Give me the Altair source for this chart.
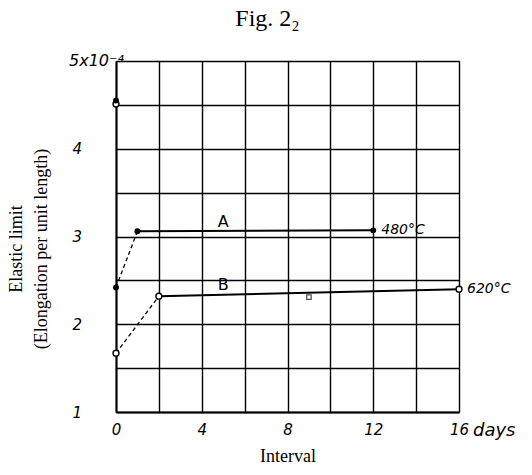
import altair as alt
import pandas as pd

# --- data ---
a_solid_days = [1, 12]
a_solid_vals = [3.06, 3.07]
a_dash_days = [0, 1]
a_dash_vals = [2.42, 3.06]

b_solid_days = [2, 16]
b_solid_vals = [2.32, 2.40]
b_dash_days = [0, 2]
b_dash_vals = [1.67, 2.32]
b_mid_day = [9]
b_mid_val = [2.31]

init_filled_day = [0]
init_filled_val = [4.55]
init_open_day = [0]
init_open_val = [4.51]

x_ticks = [0, 4, 8, 12, 16]
x_grid = [0, 2, 4, 6, 8, 10, 12, 14, 16]
y_grid = [1, 1.5, 2, 2.5, 3, 3.5, 4, 4.5, 5]
y_ticks = [1, 2, 3, 4]

label_series = ["A", "B"]
label_days = [5, 5]
label_vals = [3.17, 2.45]
temp_labels = ["480°C", "620°C"]
temp_days = [12, 16]
temp_vals = [3.07, 2.40]
top_label = ["5x10⁻⁴"]
top_val = [5]

W, H = 343, 351

solid = pd.DataFrame({
    "s": ["A"] * 2 + ["B"] * 2,
    "day": a_solid_days + b_solid_days,
    "val": a_solid_vals + b_solid_vals,
})
dash = pd.DataFrame({
    "s": ["A"] * 2 + ["B"] * 2,
    "day": a_dash_days + b_dash_days,
    "val": a_dash_vals + b_dash_vals,
})
filled_pts = pd.DataFrame({
    "day": [a_dash_days[0], a_solid_days[0], a_solid_days[1]] + init_filled_day,
    "val": [a_dash_vals[0], a_solid_vals[0], a_solid_vals[1]] + init_filled_val,
})
open_pts = pd.DataFrame({
    "day": [b_dash_days[0], b_solid_days[0], b_solid_days[1]] + init_open_day,
    "val": [b_dash_vals[0], b_solid_vals[0], b_solid_vals[1]] + init_open_val,
})
sq = pd.DataFrame({"day": b_mid_day, "val": b_mid_val})
lab = pd.DataFrame({"t": label_series, "day": label_days, "val": label_vals})
tlab = pd.DataFrame({"t": temp_labels, "day": temp_days, "val": temp_vals})
days_df = pd.DataFrame({"t": ["days"], "day": [16]})
top_df = pd.DataFrame({"t": top_label, "val": top_val})

xs = alt.Scale(domain=[0, 16], nice=False, zero=False)
ys = alt.Scale(domain=[1, 5], nice=False, zero=False)

X = alt.X("day:Q", scale=xs, axis=alt.Axis(
    values=x_grid, grid=True, ticks=False,
    labelExpr="indexof([0,4,8,12,16], datum.value) >= 0 ? toString(datum.value) : ''",
    labelPadding=10, labelFlush=False,
    title="Interval", titlePadding=10))
Y = alt.Y("val:Q", scale=ys, axis=alt.Axis(
    values=y_grid, grid=True, ticks=False,
    labelExpr="indexof([1,2,3,4], datum.value) >= 0 ? toString(datum.value) : ''",
    labelAlign="left", labelPadding=44, labelFlush=False,
    title=["Elastic limit", "(Elongation per unit length)"],
    titleX=-91, titleY=H / 2 + 12, titleAngle=270,
    titleAlign="center", titleLineHeight=25))

base_solid = alt.Chart(solid).mark_line(color="black", strokeWidth=2).encode(
    x=X, y=Y, detail="s:N")
base_dash = alt.Chart(dash).mark_line(color="black", strokeWidth=1.3,
                                      strokeDash=[4, 3]).encode(
    x=alt.X("day:Q", scale=xs), y=alt.Y("val:Q", scale=ys), detail="s:N")
p_open = alt.Chart(open_pts).mark_point(
    shape="circle", filled=False, color="black", size=35, strokeWidth=1.4,
    fill="white", fillOpacity=1).encode(
    x=alt.X("day:Q", scale=xs), y=alt.Y("val:Q", scale=ys))
p_filled = alt.Chart(filled_pts).mark_point(
    shape="circle", filled=True, color="black", size=35, opacity=1).encode(
    x=alt.X("day:Q", scale=xs), y=alt.Y("val:Q", scale=ys))
p_sq = alt.Chart(sq).mark_point(
    shape="square", filled=False, color="black", size=20, strokeWidth=1.2).encode(
    x=alt.X("day:Q", scale=xs), y=alt.Y("val:Q", scale=ys))
t_ab = alt.Chart(lab).mark_text(font="DejaVu Sans", fontSize=16,
                                color="black", baseline="middle").encode(
    x=alt.X("day:Q", scale=xs), y=alt.Y("val:Q", scale=ys), text="t:N")
t_temp = alt.Chart(tlab).mark_text(font="DejaVu Sans", fontStyle="italic",
                                   fontSize=14, color="black", align="left",
                                   dx=8, baseline="middle").encode(
    x=alt.X("day:Q", scale=xs), y=alt.Y("val:Q", scale=ys), text="t:N")
t_days = alt.Chart(days_df).mark_text(font="DejaVu Sans", fontStyle="italic",
                                      fontSize=18, color="black", align="left",
                                      dx=14, baseline="middle").encode(
    x=alt.X("day:Q", scale=xs), y=alt.value(H + 19), text="t:N")
t_top = alt.Chart(top_df).mark_text(font="DejaVu Sans", fontStyle="italic",
                                    fontSize=16, color="black", align="left",
                                    baseline="middle", dy=0).encode(
    x=alt.value(-47), y=alt.Y("val:Q", scale=ys), text="t:N")

chart = alt.layer(base_solid, base_dash, p_open, p_filled, p_sq, t_ab, t_temp,
                  t_days, t_top).properties(
    width=W, height=H,
    padding={"left": 116, "top": 61, "right": 73, "bottom": 63},
    autosize=alt.AutoSizeParams(type="none"),
    title="Fig. 2₂",
).configure_view(
    stroke="black", strokeWidth=1.4
).configure(background="white").configure_title(
    font="Liberation Serif", fontSize=24, fontWeight="normal", color="black",
    anchor="middle", offset=22, dx=-20
).configure_axis(
    gridColor="black", gridWidth=1.4, gridOpacity=1,
    domainColor="black", domainWidth=2,
    labelFont="DejaVu Sans", labelFontStyle="italic", labelFontSize=15,
    labelColor="black",
    titleFont="Liberation Serif", titleFontSize=18, titleFontWeight="normal",
    titleColor="black")

chart.save("out.html", embed_options={"renderer": "svg", "actions": False})
